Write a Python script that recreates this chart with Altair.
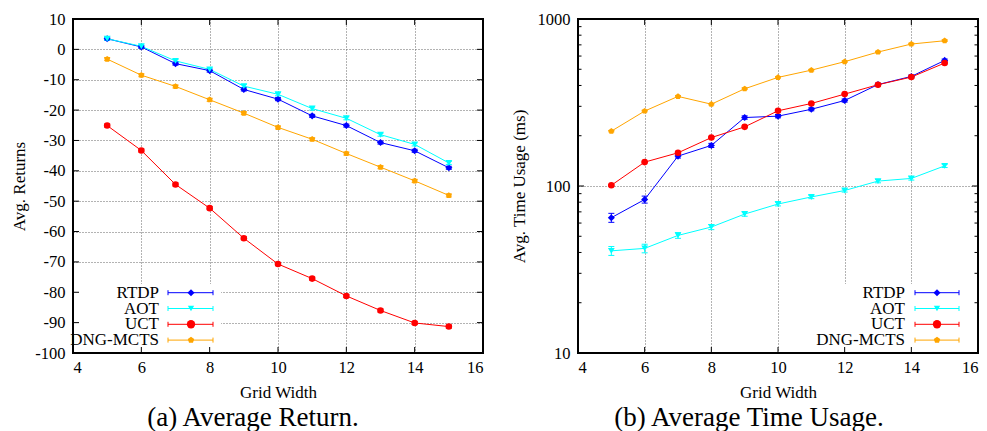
import altair as alt
import pandas as pd

# ---------------- data ----------------
grid_width = [5, 6, 7, 8, 9, 10, 11, 12, 13, 14, 15]
series_names = ["RTDP", "AOT", "UCT", "DNG-MCTS"]

ret_rtdp = [3.5, 0.8, -4.7, -7.0, -13.2, -16.4, -21.9, -25.1, -30.7, -33.4, -39.0]
ret_aot = [3.5, 1.0, -3.8, -6.6, -12.1, -14.8, -19.5, -22.7, -28.1, -31.3, -37.4]
ret_uct = [-25.1, -33.3, -44.5, -52.3, -62.2, -70.7, -75.5, -81.2, -86.0, -90.1, -91.3]
ret_dng = [-3.2, -8.5, -12.2, -16.6, -21.0, -25.7, -29.6, -34.3, -38.8, -43.3, -48.1]
ret_err = [0.5, 0.5, 0.5, 0.5, 0.5, 0.5, 0.5, 0.5, 0.5, 0.5, 0.5]

time_rtdp = [64.6, 83, 151, 175, 257, 262, 288, 325, 405, 453, 565]
time_aot = [40.9, 42.3, 50.6, 56.8, 67.9, 78, 86, 94, 107, 111, 132]
time_uct = [101, 139, 158, 195, 226, 282, 312, 355, 404, 449, 545]
time_dng = [213, 281, 344, 309, 382, 447, 494, 555, 634, 708, 741]
time_rtdp_err = [4, 4, 4, 5, 6, 6, 6, 7, 8, 9, 11]
time_aot_err = [2.5, 2.5, 2, 2, 2, 2, 2, 2, 2.5, 2.5, 3]
time_uct_err = [1, 1, 1.5, 2, 2, 2.5, 3, 3, 4, 4, 5]
time_dng_err = [2, 3, 3, 3, 4, 4, 5, 5, 6, 7, 7]

x_ticks = [4, 6, 8, 10, 12, 14, 16]
ret_ticks = [10, 0, -10, -20, -30, -40, -50, -60, -70, -80, -90, -100]
time_major = [10, 100, 1000]
time_minor = [20, 30, 40, 50, 60, 70, 80, 90, 200, 300, 400, 500, 600, 700, 800, 900]

# ---------------- style ----------------
FONT = "Liberation Serif"
colors = ["#0000ff", "#00ffff", "#ff0000", "#ffa500"]
pentagon = "M0,-1L0.951,-0.309L0.588,0.809L-0.588,0.809L-0.951,-0.309Z"
shapes = ["diamond", "triangle-down", "circle", pentagon]
sizes = [50, 40, 70, 45]
H = 334


def long_df(vals, errs):
    rows = []
    for name, v, e in zip(series_names, vals, errs):
        for x, y, er in zip(grid_width, v, e):
            rows.append({"x": x, "value": y, "lo": y - er, "hi": y + er, "series": name})
    return pd.DataFrame(rows)


color_scale = alt.Scale(domain=series_names, range=colors)
shape_scale = alt.Scale(domain=series_names, range=shapes)
size_scale = alt.Scale(domain=series_names, range=sizes)


def panel(df, W, ys, yvals, ytitle, ytitle_x, minor, leg, box, caption, cap_dx):
    xs = alt.Scale(domain=[4, 16], nice=False, zero=False)
    xaxis = alt.Axis(values=x_ticks, grid=True, ticks=False, domain=False,
                     labelPadding=6, titleY=39, titleBaseline="middle",
                     labelExpr="'' + datum.value")
    yaxis = alt.Axis(values=yvals, grid=True, ticks=False, domain=False,
                     labelPadding=8, titleX=ytitle_x, titleY=H / 2,
                     titleBaseline="middle", labelExpr="'' + datum.value")

    def X(f):
        return alt.X(f, scale=xs, axis=xaxis, title="Grid Width")

    def Y(f):
        return alt.Y(f, scale=ys, axis=yaxis, title=ytitle)

    base = alt.Chart(df)
    col = alt.Color("series:N", scale=color_scale, legend=None)
    lines = base.mark_line(strokeWidth=1).encode(x=X("x:Q"), y=Y("value:Q"), color=col)
    ebar = base.mark_rule(strokeWidth=1).encode(x=X("x:Q"), y=Y("lo:Q"), y2="hi:Q", color=col)
    cap_lo = base.mark_tick(orient="horizontal", size=6, thickness=1, opacity=1).encode(
        x=X("x:Q"), y=Y("lo:Q"), color=col)
    cap_hi = base.mark_tick(orient="horizontal", size=6, thickness=1, opacity=1).encode(
        x=X("x:Q"), y=Y("hi:Q"), color=col)
    pts = base.mark_point(filled=True, opacity=1).encode(
        x=X("x:Q"), y=Y("value:Q"), color=col,
        shape=alt.Shape("series:N", scale=shape_scale, legend=None),
        size=alt.Size("series:N", scale=size_scale, legend=None),
    )
    layers = [lines, ebar, cap_lo, cap_hi, pts]

    one = pd.DataFrame({"a": [0]})
    # legend background box
    layers.append(alt.Chart(one).mark_rect(color="white").encode(
        x=alt.value(box[0]), x2=alt.value(box[1]), y=alt.value(box[2]), y2=alt.value(box[3])))
    # legend entries
    tx, lx0, lx1, mx, ry0, rdy = leg
    for i, name in enumerate(series_names):
        yy = ry0 + rdy * i
        c = colors[i]
        layers.append(alt.Chart(pd.DataFrame({"label": [name]})).mark_text(
            align="right", baseline="middle", font=FONT, fontSize=17, color="black").encode(
            text="label:N", x=alt.value(tx), y=alt.value(yy)))
        layers.append(alt.Chart(one).mark_rule(color=c, strokeWidth=1).encode(
            x=alt.value(lx0), x2=alt.value(lx1), y=alt.value(yy)))
        for cx in (lx0, lx1):
            layers.append(alt.Chart(one).mark_rule(color=c, strokeWidth=1).encode(
                x=alt.value(cx), y=alt.value(yy - 2.5), y2=alt.value(yy + 2.5)))
        layers.append(alt.Chart(one).mark_point(
            shape=shapes[i], filled=True, color=c, size=sizes[i], opacity=1).encode(
            x=alt.value(mx), y=alt.value(yy)))

    # inner ticks (gnuplot style)
    def yticks(vals, L):
        d = pd.DataFrame({"value": vals})
        out = []
        for a, b in ((0, L), (W - L, W)):
            out.append(alt.Chart(d).mark_rule(color="black", strokeWidth=1).encode(
                y=Y("value:Q"), x=alt.value(a), x2=alt.value(b)))
        return out

    layers += yticks(yvals, 6)
    if minor:
        layers += yticks(minor, 3.5)
    dx = pd.DataFrame({"x": x_ticks})
    for a, b in ((H - 6, H), (0, 6)):
        layers.append(alt.Chart(dx).mark_rule(color="black", strokeWidth=1).encode(
            x=X("x:Q"), y=alt.value(a), y2=alt.value(b)))
    # frame
    layers.append(alt.Chart(one).mark_rect(fillOpacity=0, stroke="black", strokeWidth=2).encode(
        x=alt.value(0), x2=alt.value(W), y=alt.value(0), y2=alt.value(H)))

    return alt.layer(*layers).properties(
        width=W, height=H,
        title=alt.TitleParams(caption, orient="bottom", anchor="middle", dx=cap_dx, offset=5),
    )


ret_df = long_df([ret_rtdp, ret_aot, ret_uct, ret_dng], [ret_err] * 4)
time_df = long_df([time_rtdp, time_aot, time_uct, time_dng],
                  [time_rtdp_err, time_aot_err, time_uct_err, time_dng_err])

left = panel(ret_df, 410, alt.Scale(domain=[-100, 10], nice=False, zero=False),
             ret_ticks, "Avg. Returns", -54, None,
             (86, 95, 140, 118, 273.7, 15.8), (0, 148, 265, H),
             "(a) Average Return.", -25)
right = panel(time_df, 400, alt.Scale(type="log", domain=[10, 1000], nice=False),
              time_major, "Avg. Time Usage (ms)", -59, time_minor,
              (327, 337, 381, 359, 273.7, 15.8), (238, 400, 265, H),
              "(b) Average Time Usage.", -29)

chart = alt.hconcat(left, right, spacing=95, bounds="flush").properties(
    padding={"left": 10, "top": 11, "right": 0, "bottom": 0}
).configure_view(stroke=None).configure_axis(
    labelFont=FONT, labelFontSize=16.5, labelColor="black",
    titleFont=FONT, titleFontSize=17, titleFontWeight="normal", titleColor="black",
    gridColor="#666666", gridDash=[1, 2], gridWidth=1, gridOpacity=1,
).configure_title(
    font=FONT, fontSize=27, fontWeight="normal", color="black"
)

chart.save("out.html", embed_options={"renderer": "svg", "actions": False})
